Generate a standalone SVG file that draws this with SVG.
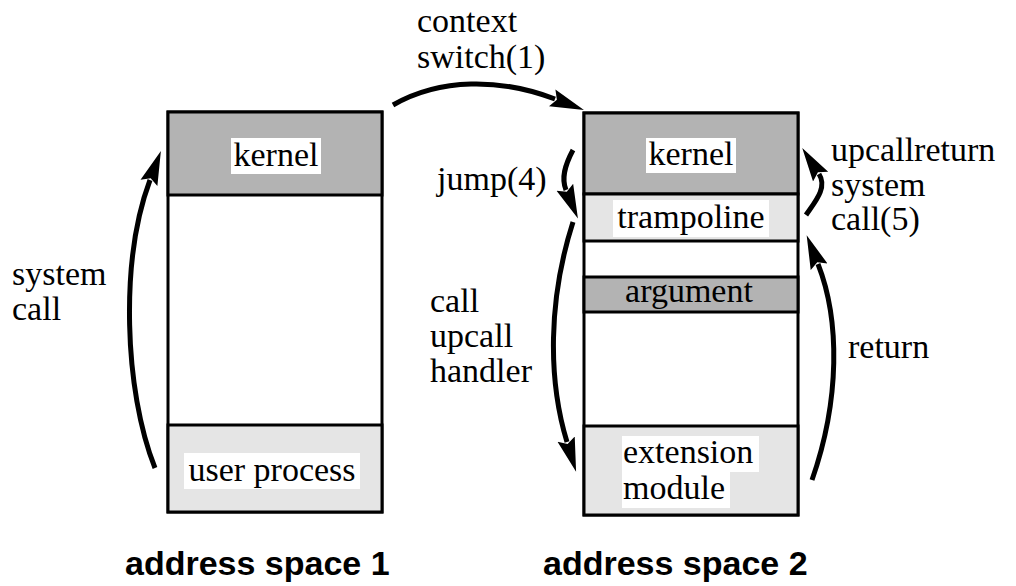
<svg xmlns="http://www.w3.org/2000/svg" width="1016" height="586" viewBox="0 0 1016 586">
  <style>
    .frame { fill: #ffffff; stroke: #000000; stroke-width: 3; }
    .dark { fill: #b3b3b3; stroke: #000000; stroke-width: 3; }
    .light { fill: #e5e5e5; stroke: #000000; stroke-width: 3; }
    .lbl { font-family: "Liberation Serif", "Times New Roman", serif; font-size: 34px; fill: #000000; }
    .mid { text-anchor: middle; }
    .bg { fill: #ffffff; }
    .title { font-family: "Liberation Sans", Arial, sans-serif; font-size: 34px; font-weight: bold; fill: #000000; }
    .arrow { fill: none; stroke: #000000; stroke-width: 5; marker-end: url(#head); }
  </style>
  <defs>
    <marker id="head" markerUnits="userSpaceOnUse" markerWidth="36" markerHeight="20" refX="3" refY="9" orient="auto" viewBox="0 0 36 18">
      <path d="M0,0 L34,9 L0,18 L5,9 z" fill="#000000"/>
    </marker>
  </defs>

  <!-- address space 1 -->
  <g id="space1">
    <rect class="frame" x="168" y="112" width="214" height="400"/>
    <g id="space1-kernel">
      <rect class="dark" x="168" y="112" width="214" height="83"/>
      <rect class="bg" x="231" y="138" width="90" height="36"/>
      <text class="lbl mid" x="276" y="166">kernel</text>
    </g>
    <g id="space1-user">
      <rect class="light" x="168" y="425" width="214" height="87"/>
      <rect class="bg" x="184" y="453" width="176" height="36"/>
      <text class="lbl mid" x="272" y="481">user process</text>
    </g>
  </g>

  <!-- address space 2 -->
  <g id="space2">
    <rect class="frame" x="584" y="113" width="214" height="402"/>
    <g id="space2-kernel">
      <rect class="dark" x="584" y="113" width="214" height="81"/>
      <rect class="bg" x="646" y="138" width="90" height="35"/>
      <text class="lbl mid" x="691" y="165">kernel</text>
    </g>
    <g id="trampoline">
      <rect class="light" x="584" y="194" width="214" height="47"/>
      <rect class="bg" x="613" y="200" width="156" height="37"/>
      <text class="lbl mid" x="691" y="228">trampoline</text>
    </g>
    <g id="argument">
      <rect class="dark" x="584" y="277" width="214" height="35"/>
      <text class="lbl mid" x="689" y="302">argument</text>
    </g>
    <g id="extension">
      <rect class="light" x="584" y="426" width="214" height="89"/>
      <rect class="bg" x="622" y="436" width="137" height="36"/>
      <rect class="bg" x="622" y="471" width="108" height="37"/>
      <text class="lbl" x="623" y="463">extension</text>
      <text class="lbl" x="623" y="499">module</text>
    </g>
  </g>

  <!-- control transfers -->
  <g id="connectors">
    <path id="syscall" class="arrow" d="M155,468 C124,390 120,260 150,180"/>
    <path id="ctxswitch" class="arrow" d="M393,105 C440,78 500,78 555,99"/>
    <path id="jump" class="arrow" d="M573,150 C565,165 561,178 566,190"/>
    <path id="callhandler" class="arrow" d="M573,222 C548,300 548,380 567,442"/>
    <path id="return" class="arrow" d="M812,480 C840,400 840,320 818,264"/>
    <path id="upcallreturn" class="arrow" d="M806,215 C814,203 828,188 819,174"/>
  </g>

  <!-- arrow labels -->
  <g id="labels">
    <text class="lbl" x="12" y="285">system</text>
    <text class="lbl" x="12" y="320">call</text>
    <text class="lbl" x="417" y="32">context</text>
    <text class="lbl" x="417" y="68">switch(1)</text>
    <text class="lbl" x="437" y="190">jump(4)</text>
    <text class="lbl" x="430" y="312">call</text>
    <text class="lbl" x="430" y="347">upcall</text>
    <text class="lbl" x="430" y="382">handler</text>
    <text class="lbl" x="831" y="161">upcallreturn</text>
    <text class="lbl" x="831" y="196">system</text>
    <text class="lbl" x="831" y="230">call(5)</text>
    <text class="lbl" x="848" y="358">return</text>
  </g>

  <text class="title" x="125" y="575">address space 1</text>
  <text class="title" x="543" y="575">address space 2</text>
</svg>
